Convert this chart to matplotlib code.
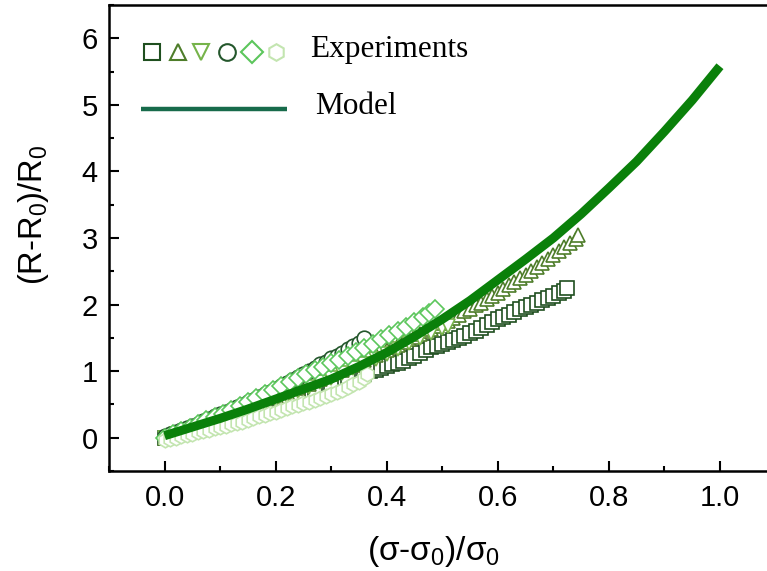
import matplotlib
matplotlib.use("Agg")
import matplotlib.pyplot as plt
from matplotlib.ticker import MultipleLocator

plt.rcParams['font.family'] = ['Liberation Sans', 'DejaVu Sans']
plt.rcParams['mathtext.fontset'] = 'custom'
plt.rcParams['mathtext.rm'] = 'Liberation Sans'
plt.rcParams['mathtext.it'] = 'Liberation Sans'
plt.rcParams['mathtext.default'] = 'regular'

# ---------------- data ----------------
sq_x = [0.00, 0.03, 0.06, 0.09, 0.12, 0.15, 0.18, 0.21, 0.24, 0.27, 0.30, 0.33, 0.36,
        0.37, 0.38, 0.39, 0.40, 0.41, 0.42, 0.43, 0.44, 0.45, 0.46, 0.47, 0.48, 0.49,
        0.50, 0.51, 0.52, 0.53, 0.54, 0.55, 0.56, 0.57, 0.58, 0.59, 0.60, 0.61, 0.62,
        0.63, 0.64, 0.65, 0.66, 0.67, 0.68, 0.69, 0.70, 0.71, 0.72, 0.724]
sq_y = [0.00, 0.06, 0.13, 0.20, 0.28, 0.36, 0.45, 0.54, 0.63, 0.72, 0.80, 0.88, 0.95,
        1.00, 1.02, 1.04, 1.07, 1.10, 1.12, 1.15, 1.19, 1.23, 1.27, 1.32, 1.36, 1.38,
        1.41, 1.44, 1.47, 1.50, 1.53, 1.57, 1.61, 1.65, 1.69, 1.74, 1.78, 1.82, 1.85,
        1.89, 1.93, 1.96, 2.00, 2.03, 2.07, 2.10, 2.13, 2.17, 2.20, 2.25]

tu_x = [0.00, 0.02, 0.04, 0.06, 0.08, 0.10, 0.12, 0.14, 0.16, 0.18, 0.20, 0.22, 0.24,
        0.26, 0.28, 0.30, 0.32, 0.34, 0.36, 0.38, 0.40, 0.41, 0.42, 0.43, 0.44, 0.45,
        0.46, 0.47, 0.48, 0.49, 0.50, 0.51, 0.52, 0.53, 0.54, 0.55, 0.56, 0.57, 0.58,
        0.59, 0.60, 0.61, 0.62, 0.63, 0.64, 0.65, 0.66, 0.67, 0.68, 0.69, 0.70, 0.71,
        0.72, 0.73, 0.74, 0.745]
tu_y = [0.00, 0.06, 0.12, 0.18, 0.25, 0.31, 0.38, 0.44, 0.50, 0.56, 0.62, 0.68, 0.75,
        0.81, 0.88, 0.95, 1.02, 1.09, 1.17, 1.24, 1.32, 1.36, 1.40, 1.44, 1.48, 1.52,
        1.56, 1.60, 1.64, 1.68, 1.72, 1.76, 1.80, 1.85, 1.90, 1.94, 1.99, 2.03, 2.08,
        2.13, 2.18, 2.23, 2.29, 2.34, 2.40, 2.45, 2.51, 2.56, 2.62, 2.68, 2.74, 2.80,
        2.86, 2.92, 2.98, 3.05]

td_x = [0.00, 0.02, 0.04, 0.06, 0.08, 0.10, 0.12, 0.14, 0.16, 0.18, 0.20, 0.22, 0.24,
        0.26, 0.28, 0.30, 0.32, 0.34, 0.36, 0.38, 0.40, 0.42, 0.44, 0.46, 0.48, 0.50, 0.51]
td_y = [0.00, 0.05, 0.10, 0.16, 0.21, 0.27, 0.33, 0.39, 0.45, 0.51, 0.57, 0.63, 0.70,
        0.76, 0.83, 0.90, 0.97, 1.04, 1.11, 1.18, 1.26, 1.34, 1.42, 1.50, 1.58, 1.65, 1.68]

ci_x = [0.00, 0.01, 0.02, 0.03, 0.04, 0.05, 0.06, 0.07, 0.08, 0.09, 0.10, 0.11, 0.12,
        0.13, 0.14, 0.15, 0.16, 0.17, 0.18, 0.19, 0.20, 0.21, 0.22, 0.23, 0.24, 0.25,
        0.26, 0.27, 0.28, 0.29, 0.30, 0.31, 0.32, 0.33, 0.34, 0.35, 0.36]
ci_y = [0.02, 0.05, 0.08, 0.11, 0.14, 0.18, 0.21, 0.25, 0.28, 0.32, 0.35, 0.39, 0.42,
        0.46, 0.49, 0.53, 0.57, 0.61, 0.65, 0.69, 0.73, 0.78, 0.82, 0.87, 0.91, 0.96,
        1.00, 1.05, 1.10, 1.14, 1.19, 1.23, 1.28, 1.33, 1.38, 1.43, 1.50]

di_x = [0.00, 0.015, 0.03, 0.045, 0.06, 0.075, 0.09, 0.105, 0.12, 0.135, 0.15, 0.165,
        0.18, 0.195, 0.21, 0.225, 0.24, 0.255, 0.27, 0.285, 0.30, 0.315, 0.33, 0.345,
        0.36, 0.375, 0.39, 0.405, 0.42, 0.435, 0.45, 0.465, 0.477, 0.487]
di_y = [0.00, 0.05, 0.10, 0.15, 0.20, 0.26, 0.31, 0.36, 0.42, 0.47, 0.53, 0.59,
        0.65, 0.71, 0.77, 0.83, 0.89, 0.95, 1.01, 1.06, 1.12, 1.17, 1.23, 1.29,
        1.35, 1.41, 1.48, 1.54, 1.60, 1.67, 1.74, 1.81, 1.87, 1.93]

hx_x = [0.00, 0.01, 0.02, 0.03, 0.04, 0.05, 0.06, 0.07, 0.08, 0.09, 0.10, 0.11, 0.12,
        0.13, 0.14, 0.15, 0.16, 0.17, 0.18, 0.19, 0.20, 0.21, 0.22, 0.23, 0.24, 0.25,
        0.26, 0.27, 0.28, 0.29, 0.30, 0.31, 0.32, 0.33, 0.34, 0.35, 0.36, 0.365]
hx_y = [-0.04, -0.02, 0.00, 0.02, 0.04, 0.06, 0.08, 0.10, 0.12, 0.14, 0.16, 0.18, 0.20,
        0.22, 0.24, 0.27, 0.29, 0.32, 0.34, 0.37, 0.39, 0.42, 0.44, 0.47, 0.49, 0.52,
        0.54, 0.57, 0.60, 0.63, 0.66, 0.69, 0.72, 0.76, 0.80, 0.84, 0.90, 0.95]

model_x = [0.0, 0.05, 0.1, 0.15, 0.2, 0.25, 0.3, 0.35, 0.4, 0.45, 0.5, 0.55, 0.6,
           0.65, 0.7, 0.75, 0.8, 0.85, 0.9, 0.95, 1.0]
model_y = [0.03, 0.16, 0.29, 0.43, 0.58, 0.73, 0.88, 1.07, 1.28, 1.52, 1.78, 2.06,
           2.37, 2.68, 3.00, 3.36, 3.75, 4.15, 4.60, 5.07, 5.58]

xticks = [0.0, 0.2, 0.4, 0.6, 0.8, 1.0]
yticks = [0, 1, 2, 3, 4, 5, 6]

series = [
    (sq_x, sq_y, 's', '#1f4f1f'),
    (tu_x, tu_y, '^', '#4e7d2a'),
    (td_x, td_y, 'v', '#76b34a'),
    (ci_x, ci_y, 'o', '#24572c'),
    (di_x, di_y, 'D', '#5cc65c'),
    (hx_x, hx_y, 'h', '#c3e5b0'),
]

# ---------------- figure ----------------
W, H = 767, 571
fig = plt.figure(figsize=(W / 100, H / 100), dpi=100)
L, R, T, B = 109, 775.5, 5, 471
ax = fig.add_axes([L / W, 1 - B / H, (R - L) / W, (B - T) / H])

for x, y, m, c in series:
    ms = 9 if m == 'D' else 10.5
    ax.plot(x, y, linestyle='none', marker=m, ms=ms, mfc='white', mec=c, mew=1.2, zorder=2)

ax.plot(model_x, model_y, color='#0a800a', lw=6.5, solid_capstyle='butt',
        solid_joinstyle='round', zorder=3)

ax.set_xlim(-0.1, 1.1)
ax.set_ylim(-0.5, 6.5)
ax.set_xticks(xticks)
ax.set_xticklabels([f"{v:.1f}" for v in xticks])
ax.set_yticks(yticks)
ax.xaxis.set_minor_locator(MultipleLocator(0.1))
ax.yaxis.set_minor_locator(MultipleLocator(0.5))
ax.tick_params(which='both', direction='in', top=False, right=False, width=1.5, labelsize=21)
ax.tick_params(which='major', length=7)
ax.tick_params(which='minor', length=3.5)
ax.tick_params(axis='y', pad=8)
ax.tick_params(axis='x', pad=9)
for s in ax.spines.values():
    s.set_linewidth(1.8)

ax.set_xlabel(r'($\sigma$-$\sigma_0$)/$\sigma_0$', fontsize=24)
ax.set_ylabel(r'(R-R$_0$)/R$_0$', fontsize=23.5)
ax.xaxis.set_label_coords((434 - L) / (R - L), (B - 534) / (B - T))
ax.yaxis.set_label_coords((51 - L) / (R - L), (B - 215) / (B - T))

# ---------------- custom legend ----------------
def axpt(px, py):
    return ((px - L) / (R - L), (B - py) / (B - T))

leg_px = [152, 178, 201, 227, 252, 276]
for (x, y, m, c), px in zip(series, leg_px):
    lx, ly = axpt(px, 52)
    ms = 11 if m == 'D' else 12
    ax.plot([lx], [ly], transform=ax.transAxes, linestyle='none', marker=m, ms=ms,
            mfc='white', mec=c, mew=1.5, clip_on=False, zorder=5)

lx0, ly0 = axpt(141, 109)
lx1, _ = axpt(287, 109)
ax.plot([lx0, lx1], [ly0, ly0], transform=ax.transAxes, color='#176b4b', lw=3.2,
        solid_capstyle='butt', zorder=5)

tx, ty = axpt(310, 50)
ax.text(tx, ty, 'Experiments', transform=ax.transAxes, fontsize=22.5,
        family=['Liberation Serif', 'DejaVu Serif'], va='center', ha='left')
tx, ty = axpt(315, 106)
ax.text(tx, ty, 'Model', transform=ax.transAxes, fontsize=22.5,
        family=['Liberation Serif', 'DejaVu Serif'], va='center', ha='left')

fig.savefig('out.png', dpi=100)
